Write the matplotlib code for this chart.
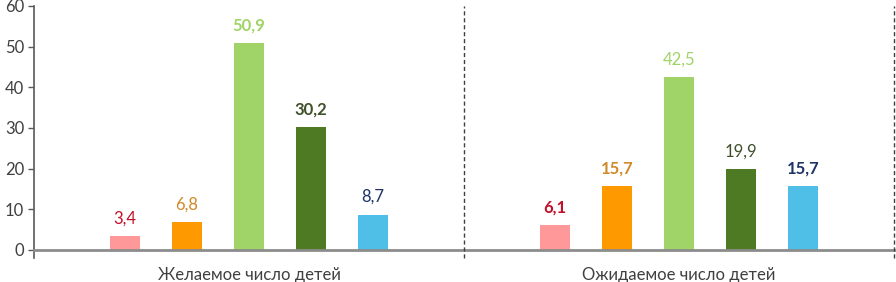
import matplotlib.pyplot as plt
import numpy as np

plt.rcParams['font.family'] = ['Lato', 'DejaVu Sans']

groups = ['Желаемое число детей', 'Ожидаемое число детей']
values = [
    [3.4, 6.8, 50.9, 30.2, 8.7],
    [6.1, 15.7, 42.5, 19.9, 15.7],
]
labels = [
    ['3,4', '6,8', '50,9', '30,2', '8,7'],
    ['6,1', '15,7', '42,5', '19,9', '15,7'],
]
bold = [
    [False, False, True, True, False],
    [True, True, False, False, True],
]
bar_colors = ['#FF9999', '#FF9900', '#A0D468', '#4E7A23', '#4FBFE8']
label_colors = ['#C0102A', '#D08A2A', '#A0D468', '#3F4F2A', '#1F3366']

fig = plt.figure(figsize=(8.96, 2.82), dpi=100)
ax = fig.add_axes([34 / 896, 32 / 282, 860 / 896, 244 / 282])

step = 62 / 430
width = 30 / 430
for g in range(len(groups)):
    for j, v in enumerate(values[g]):
        x = g + (j - 2) * step
        ax.bar(x, v, width=width, color=bar_colors[j], zorder=2)
        ax.annotate(labels[g][j], (x, v), xytext=(0, 7), textcoords='offset points',
                    ha='center', va='bottom', fontsize=12,
                    color=label_colors[j],
                    fontweight='bold' if bold[g][j] else 'normal')

ax.set_xlim(-0.5, 1.5)
ax.set_ylim(0, 60)
ax.set_yticks(np.arange(0, 61, 10))
ax.tick_params(axis='y', labelsize=12, labelcolor='#404040', length=4,
               width=1, pad=3, color='#595959')
ax.set_xticks(range(len(groups)))
ax.set_xticklabels(groups, fontsize=12, color='#404040')
ax.tick_params(axis='x', length=0, pad=12)

for s in ['top', 'right']:
    ax.spines[s].set_visible(False)
ax.spines['left'].set_color('#595959')
ax.spines['left'].set_linewidth(1.2)
ax.spines['bottom'].set_color('#8C8C8C')
ax.spines['bottom'].set_linewidth(2)

# разделители категорий
for xs in [0.5, 1.5]:
    ax.plot([xs, xs], [-2, 60], color='#404040', linestyle=(0, (3, 2)),
            linewidth=1, clip_on=False, zorder=3)
ax.plot([-0.5, -0.5], [-2, 0], color='#595959', linewidth=1.2, clip_on=False)

fig.savefig('out.png', dpi=100)
